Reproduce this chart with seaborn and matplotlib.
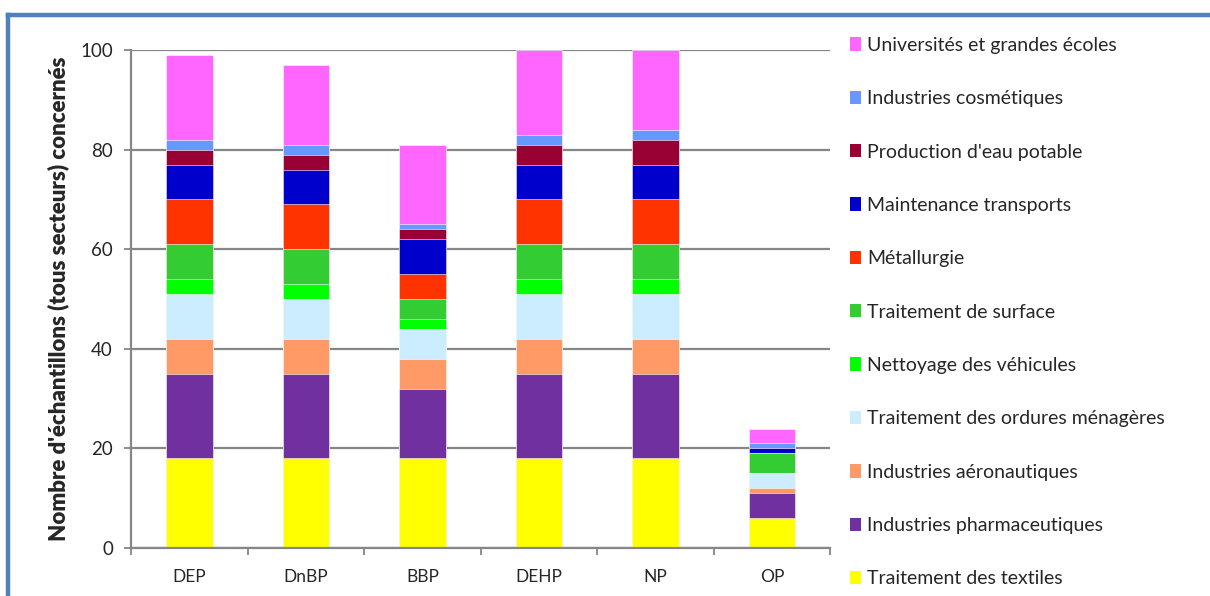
import matplotlib
matplotlib.use("Agg")
import matplotlib.pyplot as plt
from matplotlib.patches import Patch
from matplotlib.lines import Line2D
import numpy as np
import pandas as pd
import seaborn as sns

# Sample categories (phthalates / phenols)
categories = ["DEP", "DnBP", "BBP", "DEHP", "NP", "OP"]

# Number of samples per sector, bottom of the stack first
textiles      = [18, 18, 18, 18, 18, 6]
pharma        = [17, 17, 14, 17, 17, 5]
aero          = [7, 7, 6, 7, 7, 1]
ordures       = [9, 8, 6, 9, 9, 3]
nettoyage     = [3, 3, 2, 3, 3, 0]
surface       = [7, 7, 4, 7, 7, 4]
metallurgie   = [9, 9, 5, 9, 9, 0]
maintenance   = [7, 7, 7, 7, 7, 1]
eau_potable   = [3, 3, 2, 4, 5, 0]
cosmetiques   = [2, 2, 1, 2, 2, 1]
universites   = [17, 16, 16, 17, 16, 3]

series_labels = [
    "Traitement des textiles",
    "Industries pharmaceutiques",
    "Industries aéronautiques",
    "Traitement des ordures ménagères",
    "Nettoyage des véhicules",
    "Traitement de surface",
    "Métallurgie",
    "Maintenance transports",
    "Production d'eau potable",
    "Industries cosmétiques",
    "Universités et grandes écoles",
]
series_values = [textiles, pharma, aero, ordures, nettoyage, surface,
                 metallurgie, maintenance, eau_potable, cosmetiques, universites]
series_colors = ["#FFFF00", "#7030A0", "#FF9966", "#CCECFF", "#00FF00", "#33CC33",
                 "#FF3300", "#0000CC", "#990033", "#6699FF", "#FF66FF"]

y_ticks = [0, 20, 40, 60, 80, 100]
y_label = "Nombre d'échantillons (tous secteurs) concernés"

sns.set_style("white")
plt.rcParams["font.family"] = ["Lato", "DejaVu Sans"]

fig = plt.figure(figsize=(12.10, 5.96), dpi=100)
ax = fig.add_axes([0.1083, 0.0805, 0.578, 0.8355])

# Stacked bars: draw cumulative totals from the top layer down
cum = np.cumsum(np.array(series_values), axis=0)
for i in range(len(series_labels) - 1, -1, -1):
    df = pd.DataFrame({"cat": categories, "val": cum[i]})
    sns.barplot(data=df, x="cat", y="val", order=categories, color=series_colors[i],
                saturation=1, width=0.4, ax=ax, edgecolor="white", linewidth=0.4)

grid_c = "#868686"
ax.set_xlim(-0.5, len(categories) - 0.5)
ax.set_ylim(0, 100)
ax.set_yticks(y_ticks)
ax.yaxis.grid(True, color=grid_c, linewidth=1.6)
ax.set_axisbelow(True)
for s in ["top", "right"]:
    ax.spines[s].set_visible(False)
for s in ["left", "bottom"]:
    ax.spines[s].set_color(grid_c)
    ax.spines[s].set_linewidth(1.6)

ax.set_xlabel("")
ax.set_ylabel(y_label, fontsize=16, fontweight="heavy", labelpad=8)
ax.tick_params(axis="y", direction="out", length=5, width=1.3, color=grid_c,
               labelsize=13.5, pad=8, left=True)
ax.set_xticks(range(len(categories)))
ax.set_xticklabels(categories)
ax.tick_params(axis="x", which="major", length=0, labelsize=12.5, pad=15)
ax.set_xticks(np.arange(-0.5, len(categories)), minor=True)
ax.tick_params(axis="x", which="minor", direction="out", length=5, width=1.3,
               color=grid_c, bottom=True)

# Legend: top series first
handles = [Patch(facecolor=series_colors[i], edgecolor="none", label=series_labels[i])
           for i in range(len(series_labels) - 1, -1, -1)]
fig.legend(handles=handles, loc="upper left", bbox_to_anchor=(0.696, 0.9513),
           frameon=False, fontsize=14, handlelength=0.58, handleheight=0.68,
           handletextpad=0.3, labelspacing=1.87, borderaxespad=0)

# Chart frame (top and left edges)
frame_c = "#4F81BD"
fig.add_artist(Line2D([8 / 1210, 8 / 1210], [0, 1 - 15 / 596], color=frame_c,
                      linewidth=3.2, transform=fig.transFigure, solid_capstyle="projecting"))
fig.add_artist(Line2D([8 / 1210, 1], [1 - 15 / 596, 1 - 15 / 596], color=frame_c,
                      linewidth=3.2, transform=fig.transFigure, solid_capstyle="projecting"))

fig.savefig("out.png", dpi=100)
